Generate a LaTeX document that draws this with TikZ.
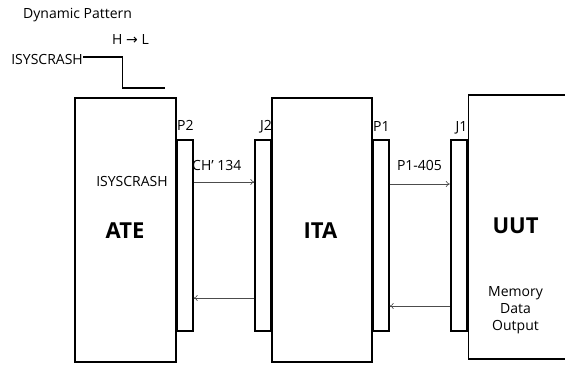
\documentclass[tikz,border=0pt]{standalone}
\usepackage{fontspec}
\setmainfont{Open Sans}
\newfontfamily\dejavu{DejaVu Sans}
\usetikzlibrary{arrows.meta}
\begin{document}
\begin{tikzpicture}[x=1pt,y=-1pt,
  box/.style={draw=black,line width=1.6pt,fill=white,inner sep=0pt},
  conn/.style={draw=black,line width=1.6pt,fill=white,inner sep=0pt,minimum width=16pt,minimum height=191pt},
  txt/.style={inner sep=0pt,font=\fontsize{14}{17}\selectfont},
  big/.style={inner sep=0pt,font=\fontsize{22}{25}\selectfont\bfseries},
  sig/.style={draw=black!70,line width=0.6pt,-{To[length=4pt,width=6pt]}},
  wave/.style={draw=black,line width=1.4pt}]
\useasboundingbox (0,0) rectangle (565,366);
% main boxes
\node[box,minimum width=101pt,minimum height=264pt] (ate) at (125.5,230) {};
\node[box,minimum width=100pt,minimum height=264pt] (ita) at (322,230) {};
\node[box,minimum width=110pt,minimum height=264pt,anchor=north west] (uut) at (467.5,94) {};
% connectors
\node[conn,anchor=north west] (p2) at (176,139) {};
\node[conn,anchor=north east] (j2) at (272,139) {};
\node[conn,anchor=north west] (p1) at (372,139) {};
\node[conn,anchor=north east] (j1) at (467.5,139) {};
% labels
\node[txt,anchor=base west] (dyn) at (23,18.5) {Dynamic Pattern};
\node[txt,anchor=base west] (hl) at (112,44.3) {H {\dejavu →} L};
\node[txt,anchor=base east] (isy) at (83,65) {ISYSCRASH};
\node[txt,anchor=base west] (lp2) at (177,131) {P2};
\node[txt,anchor=base east] (lj2) at (272,131) {J2};
\node[txt,anchor=base west] (lp1) at (373,132) {P1};
\node[txt,anchor=base east] (lj1) at (467.5,132) {J1};
\node[txt,anchor=base west] (ch) at (192,171) {CH’ 134};
\node[txt,anchor=base] (isy2) at (132,186.7) {ISYSCRASH};
\node[txt,anchor=base] (p1l) at (419.5,171) {P1-405};
\node[big,anchor=base] (atel) at (125,238.3) {ATE};
\node[big,anchor=base] (ital) at (320.5,238.3) {ITA};
\node[big,anchor=base] (uutl) at (515.5,233.3) {UUT};
\node[txt,align=center] (mem) at (515.5,310) {Memory\\Data\\Output};
% waveform
\coordinate (w1) at (122.5,57);
\coordinate (w2) at (122.5,88);
\coordinate (w3) at (165,88);
\draw[wave] (isy.east |- w1) -- (w1) -- (w2) -- (w3);
% signal arrows
\coordinate (y1) at (0,182);
\coordinate (y2) at (0,184);
\coordinate (y3) at (0,298);
\coordinate (y4) at (0,306);
\draw[sig] (p2.east |- y1) -- (j2.west |- y1);
\draw[sig] (p1.east |- y2) -- (j1.west |- y2);
\draw[sig] (j2.west |- y3) -- (p2.east |- y3);
\draw[sig] (j1.west |- y4) -- (p1.east |- y4);
\end{tikzpicture}
\end{document}
